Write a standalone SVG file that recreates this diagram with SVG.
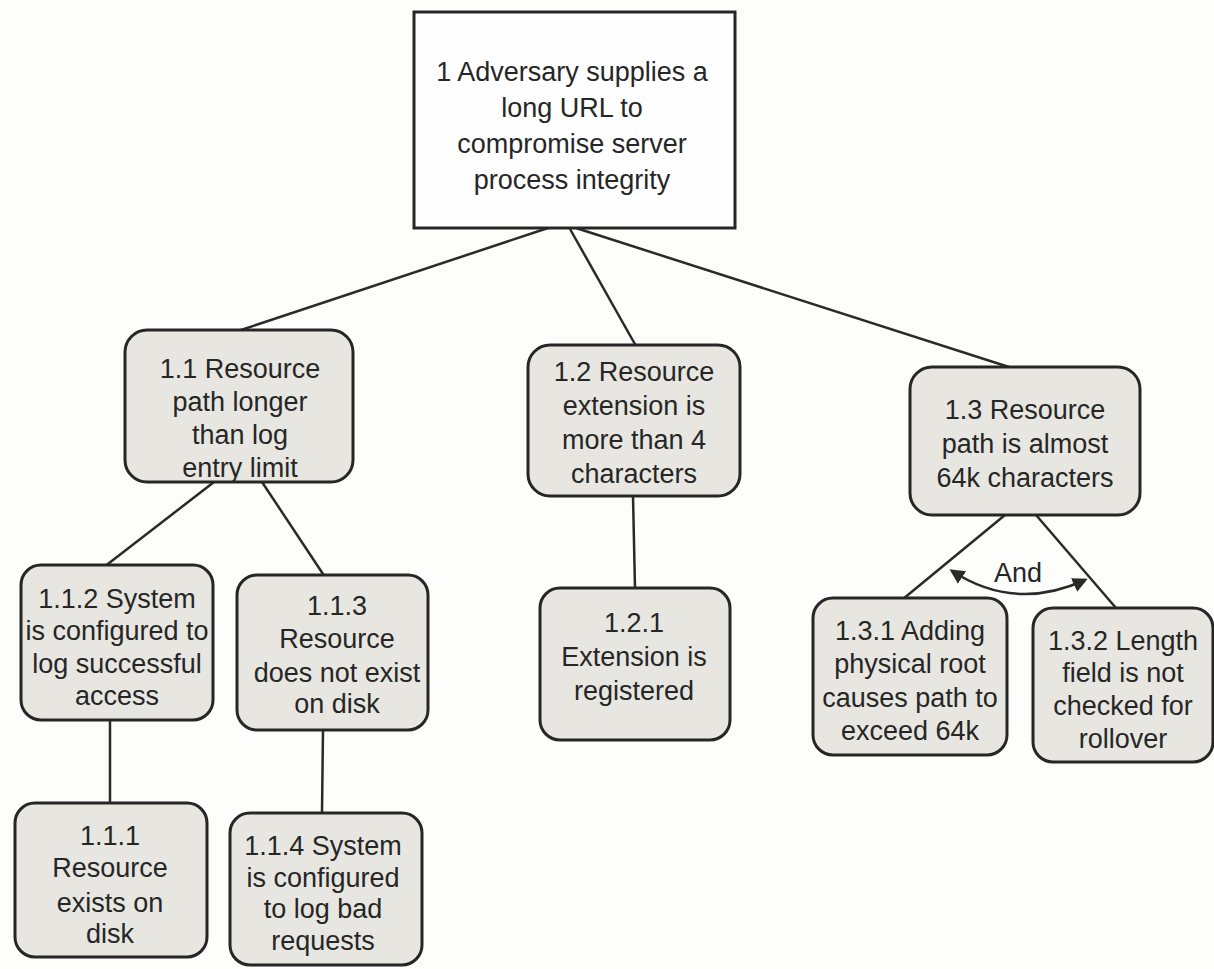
<svg xmlns="http://www.w3.org/2000/svg" width="1214" height="969" viewBox="0 0 1214 969">
<style>
.bg{fill:#fdfdfb}
.node{fill:#e8e6e0;stroke:#262626;stroke-width:3}
.root{fill:#fefefe;stroke:#262626;stroke-width:3}
.edge{stroke:#2a2a2a;stroke-width:2.5;fill:none}
text{font-family:"Liberation Sans","Arial",sans-serif;font-size:27px;fill:#262626;text-anchor:middle}
.rt{font-size:27px}
</style>
<defs>
<marker id="ah" viewBox="0 0 10 10" refX="8" refY="5" markerWidth="6" markerHeight="6" orient="auto-start-reverse">
<path d="M0,0 L10,5 L0,10 z" fill="#2a2a2a"/>
</marker>
</defs>
<rect class="bg" x="0" y="0" width="1214" height="969"/>
<g id="connectors">
<line class="edge" x1="548" y1="228" x2="238" y2="331"/>
<line class="edge" x1="570" y1="229" x2="636" y2="346"/>
<line class="edge" x1="576" y1="228" x2="1012" y2="368"/>
<line class="edge" x1="214" y1="482" x2="104" y2="567"/>
<line class="edge" x1="262" y1="482" x2="325" y2="577"/>
<line class="edge" x1="110" y1="720" x2="110" y2="803"/>
<line class="edge" x1="323" y1="730" x2="322" y2="813"/>
<line class="edge" x1="633" y1="496" x2="635" y2="588"/>
<line class="edge" x1="1005" y1="515" x2="903" y2="599"/>
<line class="edge" x1="1036" y1="515" x2="1116" y2="608"/>
<path class="edge" d="M952,571 Q1015,612 1085,580" marker-start="url(#ah)" marker-end="url(#ah)"/>
<text x="1018" y="582" font-size="25">And</text>
</g>
<g id="n1">
<rect class="root" x="414" y="12" width="321" height="216"/>
<text class="rt" x="572" y="81">1 Adversary supplies a</text>
<text class="rt" x="572" y="117">long URL to</text>
<text class="rt" x="572" y="153">compromise server</text>
<text class="rt" x="572" y="189">process integrity</text>
</g>
<g id="n1_1">
<rect class="node" x="125" y="330" width="228" height="152" rx="22"/>
<text x="240" y="378">1.1 Resource</text>
<text x="240" y="411">path longer</text>
<text x="240" y="444">than log</text>
<text x="240" y="477">entry limit</text>
</g>
<g id="n1_2">
<rect class="node" x="528" y="345" width="212" height="151" rx="22"/>
<text x="634" y="381">1.2 Resource</text>
<text x="634" y="415">extension is</text>
<text x="634" y="449">more than 4</text>
<text x="634" y="483">characters</text>
</g>
<g id="n1_3">
<rect class="node" x="910" y="367" width="230" height="148" rx="22"/>
<text x="1025" y="419">1.3 Resource</text>
<text x="1025" y="453">path is almost</text>
<text x="1025" y="487">64k characters</text>
</g>
<g id="n1_1_2">
<rect class="node" x="21" y="565" width="192" height="155" rx="20"/>
<text x="117" y="608">1.1.2 System</text>
<text x="117" y="640">is configured to</text>
<text x="117" y="673">log successful</text>
<text x="117" y="705">access</text>
</g>
<g id="n1_1_3">
<rect class="node" x="237" y="575" width="191" height="155" rx="20"/>
<text x="337" y="615">1.1.3</text>
<text x="337" y="648">Resource</text>
<text x="337" y="682">does not exist</text>
<text x="337" y="713">on disk</text>
</g>
<g id="n1_1_1">
<rect class="node" x="15" y="803" width="192" height="154" rx="20"/>
<text x="110" y="845">1.1.1</text>
<text x="110" y="877">Resource</text>
<text x="110" y="912">exists on</text>
<text x="110" y="943">disk</text>
</g>
<g id="n1_1_4">
<rect class="node" x="230" y="813" width="192" height="152" rx="20"/>
<text x="323" y="855">1.1.4 System</text>
<text x="323" y="887">is configured</text>
<text x="323" y="918">to log bad</text>
<text x="323" y="950">requests</text>
</g>
<g id="n1_2_1">
<rect class="node" x="540" y="588" width="190" height="152" rx="20"/>
<text x="634" y="632">1.2.1</text>
<text x="634" y="666">Extension is</text>
<text x="634" y="700">registered</text>
</g>
<g id="n1_3_1">
<rect class="node" x="813" y="598" width="194" height="157" rx="20"/>
<text x="910" y="640">1.3.1 Adding</text>
<text x="910" y="673">physical root</text>
<text x="910" y="707">causes path to</text>
<text x="910" y="740">exceed 64k</text>
</g>
<g id="n1_3_2">
<rect class="node" x="1033" y="608" width="180" height="154" rx="20"/>
<text x="1123" y="650">1.3.2 Length</text>
<text x="1123" y="682">field is not</text>
<text x="1123" y="715">checked for</text>
<text x="1123" y="748">rollover</text>
</g>
</svg>
